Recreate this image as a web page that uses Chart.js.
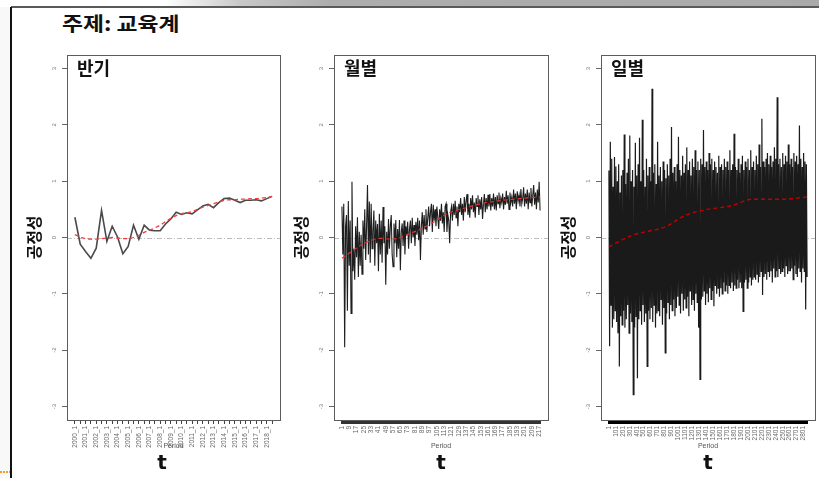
<!DOCTYPE html>
<html><head><meta charset="utf-8">
<script src="https://cdn.jsdelivr.net/npm/chart.js@4/dist/chart.umd.min.js"></script>
<style>
html,body{margin:0;padding:0;background:#fff;}
#root{position:relative;width:819px;height:478px;overflow:hidden;background:#fff;}
.abs{position:absolute;}
canvas{position:absolute;top:0;}
#leftstrip{left:0;top:0;width:11px;height:478px;background:#f8f8f8;}
#topband{left:0;top:0;width:819px;height:7px;background:linear-gradient(to right,#fff 0px,#fff 165px,#c8c8c8 240px,#adadad 330px,#aaa 819px);}
#topline{left:11px;top:6px;width:808px;height:2px;background:#5a5a5a;}
#vline{left:10px;top:7px;width:2px;height:471px;background:#111;}
#orange{left:0;top:471px;width:10px;height:2px;background:repeating-linear-gradient(to right,#f0a020 0 2px,transparent 2px 3px);}
#title{left:62px;top:9px;font:bold 19px 'Noto Sans CJK KR',sans-serif;color:#111;white-space:nowrap;transform:scaleX(1.2);transform-origin:left top;}
.tlab{top:450px;font:bold 20px 'DejaVu Sans',sans-serif;color:#111;transform:translateX(-50%);}
</style></head><body>
<div id="root">
<div id="leftstrip" class="abs"></div>
<div id="topband" class="abs"></div>
<div id="topline" class="abs"></div>
<div id="vline" class="abs"></div>
<div id="orange" class="abs"></div>
<div id="title" class="abs">주제: 교육계</div>
<canvas id="c1"></canvas>
<canvas id="c2"></canvas>
<canvas id="c3"></canvas>
<div class="abs tlab" style="left:162px">t</div>
<div class="abs tlab" style="left:441px">t</div>
<div class="abs tlab" style="left:708px">t</div>
</div>
<script>
// ---------------- data ----------------
const panelTitles = ["반기", "월별", "일별"];
const yAxisTitle = "공정성";
const xAxisTitle = "Period";
const yTicks = [-3, -2, -1, 0, 1, 2, 3];

const semiPeriods = ["2000_1","2000_2","2001_1","2001_2","2002_1","2002_2","2003_1","2003_2","2004_1","2004_2","2005_1","2005_2","2006_1","2006_2","2007_1","2007_2","2008_1","2008_2","2009_1","2009_2","2010_1","2010_2","2011_1","2011_2","2012_1","2012_2","2013_1","2013_2","2014_1","2014_2","2015_1","2015_2","2016_1","2016_2","2017_1","2017_2","2018_1","2018_2"];
const semiValues = [0.36,-0.12,-0.25,-0.37,-0.19,0.48,-0.07,0.2,0.01,-0.29,-0.16,0.22,-0.03,0.22,0.13,0.12,0.12,0.24,0.33,0.45,0.41,0.44,0.42,0.49,0.56,0.59,0.53,0.62,0.69,0.7,0.66,0.62,0.66,0.66,0.67,0.65,0.69,0.73];
const semiTrend = [0.05,0.01,-0.02,-0.03,-0.03,-0.02,-0.01,0.0,-0.01,-0.02,-0.02,0.0,0.04,0.09,0.13,0.17,0.22,0.28,0.34,0.39,0.42,0.44,0.46,0.5,0.54,0.57,0.6,0.63,0.66,0.67,0.67,0.68,0.68,0.69,0.69,0.7,0.71,0.73];

const monthlyValues = [
 0.55,-0.3,0.6,-1.95,0.2,0.4,-1.3,0.65,-0.5,0.3,-1.35,0.99,
 -0.6,-0.2,-0.75,0.2,-0.35,0.36,-0.7,0.1,-0.5,0.05,-0.65,0.3,
 -0.2,0.5,-0.4,0.2,0.93,-0.3,0.64,-0.45,0.6,-0.2,0.1,0.48,
 -0.5,0.3,-0.1,0.24,-0.6,0.42,-0.3,0.3,-0.45,0.54,-0.1,0.2,
 -0.84,0.1,-0.3,0.33,-0.2,0.2,0.4,-0.3,-0.52,0.25,-0.1,0.31,
 -0.35,0.15,-0.2,0.31,-0.58,0.1,0.25,-0.15,0.3,-0.3,0.2,0.05,
 0.28,-0.2,0.15,0.3,-0.1,0.35,0.0,0.22,-0.15,0.28,0.05,0.35,
 -0.05,0.3,-0.4,0.2,0.45,0.05,0.4,0.15,0.5,0.1,0.35,0.55,
 0.2,0.45,0.6,0.1,0.58,0.3,0.5,0.2,0.55,0.35,0.15,0.5,
 0.3,0.6,0.25,0.45,0.1,0.55,0.6,0.1,0.4,0.3,-0.1,0.45,
 0.55,0.3,0.6,0.4,0.65,0.35,0.55,0.2,0.6,0.45,0.7,0.4,
 0.6,0.3,0.72,0.45,0.65,0.77,0.4,0.6,0.35,0.7,0.5,0.75,
 0.45,0.62,0.35,0.7,0.55,0.75,0.4,0.68,0.5,0.72,0.33,0.6,
 0.77,0.45,0.7,0.5,0.76,0.55,0.77,0.48,0.7,0.55,0.78,0.5,
 0.72,0.48,0.75,0.6,0.8,0.52,0.7,0.62,0.78,0.5,0.72,0.58,
 0.83,0.6,0.75,0.5,0.8,0.62,0.72,0.55,0.85,0.6,0.78,0.5,
 0.82,0.65,0.75,0.55,0.86,0.6,0.7,0.89,0.55,0.78,0.6,0.85,
 0.5,0.8,0.62,0.88,0.55,0.75,0.93,0.58,0.8,0.5,0.85,0.62,
 0.99,0.48];
const monthlyTrendMonth = [1,26,44,55,80,99,117,135,153,172,189,218];
const monthlyTrendValue = [-0.37,-0.1,-0.015,-0.03,0.1,0.25,0.43,0.52,0.6,0.65,0.68,0.72];
const monthlyLabelEvery = 8;

const dailyStep = 10; // one reading per 10 days
const dailyValues = [
 1.19,-1.93,1.70,-1.2,1.4,-1.6,0.9,-1.45,1.43,-1.3,
 1.26,-1.5,1.0,-1.7,1.3,-2.29,0.8,-1.4,1.1,-1.55,
 1.2,-1.3,1.83,-1.6,0.95,-1.45,1.15,-1.2,1.4,-1.7,
 1.81,-1.35,1.0,-1.5,1.2,-2.79,0.9,-1.6,1.68,-1.4,
 1.1,-2.5,1.3,-1.45,1.77,-1.3,1.0,-1.55,2.09,-1.2,
 1.2,-1.5,0.9,-1.35,1.4,-2.29,1.1,-1.3,1.25,-1.45,
 1.0,-1.25,2.64,-1.5,1.15,-1.2,1.3,-1.6,0.95,-1.35,
 1.7,-1.3,1.1,-1.4,1.25,-1.1,1.0,-1.55,1.35,-1.25,
 1.2,-2.05,1.05,-1.35,1.3,-1.15,1.1,-1.45,1.4,-1.2,
 1.96,-1.3,1.15,-1.1,1.25,-1.4,1.0,-1.25,1.3,-1.05,
 1.79,-1.2,1.2,-1.35,1.1,-1.0,1.45,-1.3,1.15,-1.1,
 1.3,-1.25,1.6,-1.05,1.2,-1.4,1.35,-0.95,1.1,-1.2,
 1.4,-1.1,1.25,-1.3,1.55,-1.0,1.2,-1.15,1.35,-1.6,
 1.2,-2.52,1.4,-1.1,1.3,-1.05,1.91,-0.95,1.25,-1.2,
 1.35,-1.0,1.2,-1.15,1.5,-0.9,1.3,-1.1,1.4,-0.95,
 1.2,-1.22,1.35,-0.85,1.25,-1.0,1.15,-0.9,1.45,-1.05,
 1.25,-0.9,1.3,-1.0,1.2,-0.8,1.4,-0.95,1.25,-0.85,
 1.35,-1.0,1.2,-0.85,1.55,-0.9,1.2,-0.8,1.3,-0.95,
 1.84,-0.85,1.25,-0.9,1.2,-0.75,1.4,-0.9,1.15,-0.8,
 1.3,-0.9,1.45,-1.31,1.2,-0.8,1.35,-0.75,1.25,-0.9,
 1.4,-0.8,1.2,-0.7,1.55,-0.85,1.25,-0.75,1.35,-0.7,
 1.2,-0.75,1.45,-0.65,1.3,-0.8,1.65,-0.7,1.25,-0.6,
 2.11,-1.02,1.35,-0.7,1.25,-0.65,1.4,-0.75,1.5,-0.6,
 1.3,-0.7,1.45,-0.6,1.25,-0.8,1.35,-0.55,1.6,-0.7,
 1.4,-0.6,2.49,-0.7,1.3,-0.55,1.4,-0.65,1.25,-0.6,
 1.5,-0.55,1.3,-0.7,1.45,-0.5,1.35,-0.65,1.65,-0.6,
 1.3,-0.6,1.4,-0.55,1.25,-0.75,1.5,-0.5,1.35,-0.65,
 1.45,-0.7,1.3,-0.55,1.99,-0.6,1.4,-0.8,1.25,-0.55,
 1.5,-0.6,1.35,-1.28,1.3,-0.7];
const dailyTrendDay = [1,340,830,1060,1300,1780,2065,2500,2851];
const dailyTrendValue = [-0.16,0.04,0.2,0.37,0.47,0.57,0.68,0.68,0.72];
const dailyLabelEvery = 100;

// ---------------- layout ----------------
const BOX_TOP = 55, BOX_BOTTOM = 420, YAXIS_W = 57, PAD_R = 4, H = 478;
const panels = [
  {id:'c1', left:67, w:213},
  {id:'c2', left:334, w:214},
  {id:'c3', left:601, w:214}
];

const panelPlugin = {
  id: 'panelDeco',
  beforeDatasetsDraw(chart) {
    const {ctx, chartArea:a, scales} = chart;
    const y0 = scales.y.getPixelForValue(0);
    ctx.save();
    ctx.strokeStyle = '#bdbdbd';
    ctx.lineWidth = 1;
    ctx.setLineDash([5,2,1,2]);
    ctx.beginPath();
    ctx.moveTo(a.left, Math.round(y0)+0.5);
    ctx.lineTo(a.right, Math.round(y0)+0.5);
    ctx.stroke();
    ctx.restore();
  },
  afterDraw(chart) {
    const {ctx, chartArea:a, scales} = chart;
    const o = chart.options.plugins.panelDeco;
    ctx.save();
    ctx.strokeStyle = '#5c5c5c';
    ctx.lineWidth = 1;
    ctx.strokeRect(Math.round(a.left)+0.5, Math.round(a.top)+0.5, Math.round(a.right-a.left), Math.round(a.bottom-a.top));
    ctx.fillStyle = '#777';
    ctx.font = '6px "Liberation Sans", Arial, sans-serif';
    ctx.textAlign = 'center';
    ctx.textBaseline = 'middle';
    yTicks.forEach(v => {
      const y = scales.y.getPixelForValue(v);
      ctx.save();
      ctx.translate(a.left - 13, y);
      ctx.rotate(-Math.PI/2);
      ctx.fillText(String(v), 0, 0);
      ctx.restore();
    });
    ctx.fillStyle = '#111';
    ctx.font = 'bold 18px "Noto Sans CJK KR", sans-serif';
    ctx.textAlign = 'left';
    ctx.textBaseline = 'alphabetic';
    ctx.fillText(o.title, a.left + 10, a.top + 20);
    ctx.fillStyle = '#555';
    ctx.font = '7px "Liberation Sans", Arial, sans-serif';
    ctx.textAlign = 'center';
    ctx.textBaseline = 'middle';
    ctx.fillText(xAxisTitle, (a.left + a.right)/2, 446);
    ctx.restore();
  }
};

function makeChart(p, cfg) {
  const cv = document.getElementById(p.id);
  const W = YAXIS_W + p.w + PAD_R;
  cv.width = W; cv.height = H;
  cv.style.left = (p.left - YAXIS_W) + 'px';
  cv.style.width = W + 'px'; cv.style.height = H + 'px';
  return new Chart(cv.getContext('2d'), {
    type: 'line',
    data: { datasets: cfg.datasets },
    options: {
      responsive: false,
      animation: false,
      devicePixelRatio: 1,
      layout: { padding: { top: BOX_TOP, right: PAD_R, left: 0, bottom: 0 } },
      plugins: { legend: {display:false}, tooltip: {enabled:false}, panelDeco: { title: cfg.title } },
      elements: { point: { radius: 0 } },
      scales: {
        x: {
          type: 'linear', min: cfg.xMin, max: cfg.xMax,
          afterBuildTicks: s => { s.ticks = cfg.tickValues.map(v => ({value: v})); },
          afterFit: s => { s.height = H - BOX_BOTTOM; },
          ticks: { autoSkip: false, minRotation: 90, maxRotation: 90, padding: 2,
                   font: { size: 6.5, family: '"Liberation Sans", Arial, sans-serif' }, color: '#666',
                   callback: v => cfg.labelFor(v) },
          grid: { drawOnChartArea: false, drawTicks: true, tickLength: 4, tickColor: cfg.tickColor, tickWidth: 1 },
          border: { display: false }
        },
        y: {
          type: 'linear', min: -3.24, max: 3.24,
          afterBuildTicks: s => { s.ticks = yTicks.map(v => ({value: v})); },
          afterFit: s => { s.width = YAXIS_W; },
          ticks: { display: false },
          grid: { drawOnChartArea: false, drawTicks: true, tickLength: 5, tickColor: '#666', tickWidth: 1 },
          border: { display: false },
          title: { display: true, text: yAxisTitle, color: '#111',
                   font: { size: 16, weight: 'bold', family: '"Noto Sans CJK KR", sans-serif' },
                   padding: { top: 14, bottom: 0 } }
        }
      }
    },
    plugins: [panelPlugin]
  });
}

// Panel 1: semiannual
const semiN = semiValues.length;
makeChart(panels[0], {
  title: panelTitles[0],
  xMin: 1 - 0.04*(semiN-1), xMax: semiN + 0.04*(semiN-1),
  tickValues: semiPeriods.map((_, i) => i + 1),
  labelFor: v => ((v - 1) % 2 === 0 ? semiPeriods[v - 1] : ''),
  tickColor: '#444',
  datasets: [
    { data: semiTrend.map((v,i)=>({x:i+1,y:v})), borderColor:'#f04040', borderWidth:1.3, borderDash:[4,3], tension:0.3 },
    { data: semiValues.map((v,i)=>({x:i+1,y:v})), borderColor:'#4a4a4a', borderWidth:1.6 }
  ]
});

// Panel 2: monthly
const monN = monthlyValues.length;
makeChart(panels[1], {
  title: panelTitles[1],
  xMin: 1 - 0.04*(monN-1), xMax: monN + 0.04*(monN-1),
  tickValues: monthlyValues.map((_, i) => i + 1),
  labelFor: v => ((v - 1) % monthlyLabelEvery === 0 ? String(v) : ''),
  tickColor: '#333',
  datasets: [
    { data: monthlyTrendMonth.map((m,i)=>({x:m,y:monthlyTrendValue[i]})), borderColor:'#ee3030', borderWidth:1.2, borderDash:[4,3], cubicInterpolationMode:'monotone' },
    { data: monthlyValues.map((v,i)=>({x:i+1,y:v})), borderColor:'#1e1e1e', borderWidth:1.1 }
  ]
});

// Panel 3: daily
const dayLast = 1 + (dailyValues.length - 1) * dailyStep;
makeChart(panels[2], {
  title: panelTitles[2],
  xMin: 1 - 0.04*(dayLast-1), xMax: dayLast + 0.04*(dayLast-1),
  tickValues: dailyValues.map((_, i) => 1 + i*dailyStep),
  labelFor: v => ((v - 1) % dailyLabelEvery === 0 ? String(v) : ''),
  tickColor: '#000',
  datasets: [
    { data: dailyTrendDay.map((d,i)=>({x:d,y:dailyTrendValue[i]})), borderColor:'#c00000', borderWidth:1.4, borderDash:[4,3], cubicInterpolationMode:'monotone' },
    { data: dailyValues.map((v,i)=>({x:1+i*dailyStep,y:v})), borderColor:'#1a1a1a', borderWidth:1.2 }
  ]
});
</script>
</body></html>
